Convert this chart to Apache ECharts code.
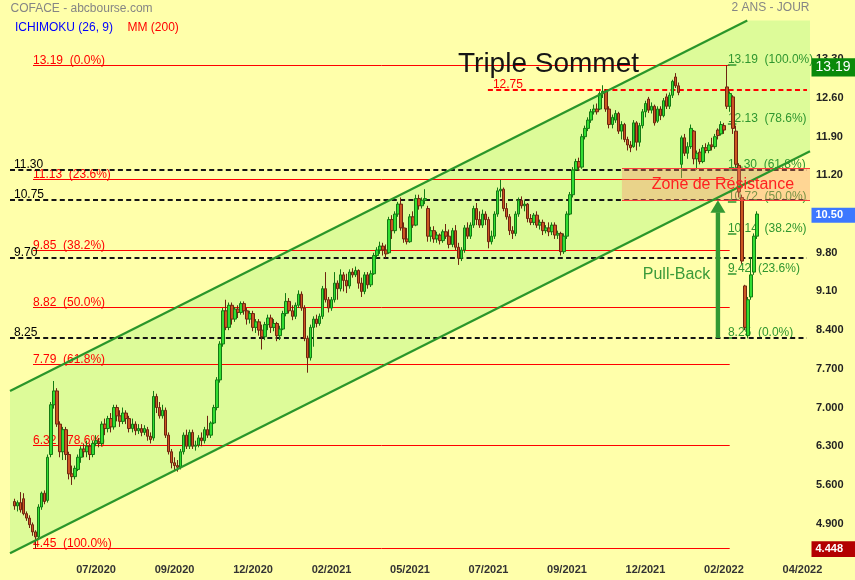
<!DOCTYPE html>
<html>
<head>
<meta charset="utf-8">
<script src="https://cdn.jsdelivr.net/npm/echarts@6/dist/echarts.min.js"></script>
<style>
html,body{margin:0;padding:0;background:#FFFFAA;}
#c{width:855px;height:580px;}
</style>
</head>
<body>
<div id="c"></div>
<script>
// ---------------- data ----------------
const tickLabels = ['07/2020','09/2020','12/2020','02/2021','05/2021','07/2021','09/2021','12/2021','02/2022','04/2022'];
const slotCount = 265;      // trading-slot categories across the plot
const firstTick = 28;
const tickStep = 26;

// [open, close, low, high] — one candle per slot starting at slot 1
const candles = [
[5.30,5.22,5.15,5.35],[5.22,5.28,5.12,5.32],[5.28,5.15,5.10,5.47],[5.35,5.08,5.05,5.45],[5.08,5.00,4.95,5.12],
[5.00,4.88,4.82,5.05],[4.88,4.75,4.68,4.92],[4.75,4.66,4.45,4.78],[4.66,5.20,4.62,5.25],[5.20,5.45,5.15,5.48],
[5.45,5.30,5.25,5.50],[5.32,6.10,5.28,6.15],[6.15,7.05,6.10,7.10],[7.05,7.30,6.98,7.48],[7.30,6.70,6.65,7.35],
[6.70,6.20,6.10,6.75],[6.20,6.60,6.05,6.65],[6.60,6.15,6.05,6.65],[6.15,5.80,5.70,6.20],[5.80,5.75,5.60,5.95],
[5.75,5.90,5.70,5.95],[5.88,6.10,5.85,6.15],[6.10,6.25,6.00,6.30],[6.25,6.20,6.10,6.35],[6.20,6.30,6.10,6.40],
[6.30,6.15,6.05,6.35],[6.15,6.35,6.10,6.40],[6.35,6.40,6.30,6.50],[6.38,6.35,6.28,6.45],[6.35,6.70,6.30,6.75],
[6.70,6.62,6.50,6.80],[6.62,6.80,6.55,6.85],[6.80,6.65,6.55,6.90],[6.65,7.00,6.60,7.05],[7.00,6.85,6.75,7.05],
[6.85,6.75,6.65,6.95],[6.75,6.90,6.70,7.00],[6.90,6.80,6.70,6.95],[6.80,6.62,6.55,6.85],[6.62,6.70,6.55,6.80],
[6.70,6.58,6.50,6.75],[6.58,6.62,6.52,6.70],[6.62,6.55,6.48,6.70],[6.55,6.62,6.50,6.68],[6.60,6.48,6.40,6.65],
[6.48,6.42,6.35,6.55],[6.45,7.20,6.40,7.30],[7.20,7.00,6.90,7.25],[7.00,6.85,6.80,7.10],[6.85,6.95,6.80,7.05],
[6.95,6.50,6.45,7.00],[6.50,6.20,6.15,6.55],[6.20,6.00,5.90,6.25],[6.00,5.95,5.85,6.10],[5.95,5.92,5.84,6.05],
[5.92,6.20,5.88,6.25],[6.20,6.50,6.15,6.55],[6.50,6.30,6.25,6.60],[6.30,6.55,6.25,6.60],[6.55,6.30,6.25,6.60],
[6.30,6.32,6.22,6.40],[6.32,6.45,6.28,6.50],[6.45,6.40,6.30,6.55],[6.40,6.60,6.35,6.65],[6.60,6.50,6.45,6.85],
[6.50,6.72,6.45,6.75],[6.72,7.00,6.70,7.05],[7.00,7.50,6.95,7.55],[7.50,8.15,7.45,8.20],[8.15,8.75,8.10,8.80],
[8.75,8.45,8.40,8.95],[8.45,8.85,8.40,8.90],[8.85,8.60,8.50,8.90],[8.60,8.78,8.55,8.82],[8.78,8.72,8.62,8.85],
[8.72,8.88,8.68,8.92],[8.88,8.75,8.68,8.92],[8.75,8.60,8.50,8.80],[8.60,8.70,8.52,8.75],[8.70,8.45,8.38,8.75],
[8.45,8.55,8.35,8.60],[8.55,8.40,8.30,8.60],[8.40,8.28,8.05,8.50],[8.28,8.50,8.22,8.55],[8.50,8.62,8.40,8.68],
[8.62,8.45,8.35,8.68],[8.45,8.52,8.38,8.60],[8.52,8.30,8.20,8.55],[8.30,8.42,8.22,8.48],[8.42,8.70,8.40,8.75],
[8.70,8.92,8.65,9.07],[8.92,8.75,8.70,8.98],[8.75,8.65,8.58,8.85],[8.65,8.85,8.60,8.90],[8.85,9.05,8.80,9.12],
[9.05,8.80,8.75,9.10],[8.80,8.25,8.20,8.85],[8.25,7.90,7.63,8.30],[7.90,8.45,7.85,8.50],[8.45,8.60,8.10,8.65],
[8.60,8.52,8.45,8.68],[8.52,8.65,8.48,8.70],[8.65,9.15,8.60,9.20],[9.15,8.95,8.90,9.45],[8.95,8.80,8.72,9.00],
[8.80,8.95,8.75,9.00],[8.95,9.25,8.90,9.45],[9.25,9.15,8.95,9.30],[9.15,9.40,9.10,9.50],[9.40,9.30,9.10,9.45],
[9.30,9.20,9.07,9.42],[9.20,9.45,9.15,9.50],[9.45,9.40,9.35,9.52],[9.40,9.48,9.36,9.55],[9.48,9.25,9.15,9.50],
[9.25,9.10,9.00,9.35],[9.10,9.40,9.05,9.45],[9.40,9.22,9.15,9.45],[9.22,9.42,9.18,9.48],[9.42,9.75,9.40,9.80],
[9.75,9.85,9.70,9.90],[9.85,9.92,9.78,10.00],[9.92,9.85,9.75,9.98],[9.85,9.78,9.70,9.95],[9.80,10.40,9.78,10.45],
[10.40,10.20,10.05,10.48],[10.20,10.50,10.15,10.55],[10.50,10.68,10.45,10.72],[10.68,10.25,10.20,10.80],[10.25,10.05,9.98,10.35],
[10.05,10.00,9.95,10.25],[10.00,10.45,9.98,10.50],[10.45,10.30,10.25,10.55],[10.30,10.78,10.28,10.85],[10.78,10.65,10.58,10.85],
[10.65,10.75,10.60,10.80],[10.75,10.78,10.68,10.95],[10.60,10.10,10.00,10.65],[10.10,10.20,10.00,10.27],[10.20,10.05,9.98,10.28],
[10.05,10.12,9.98,10.18],[10.12,10.02,9.95,10.15],[10.02,10.18,9.98,10.22],[10.18,10.10,10.05,10.32],[10.10,9.95,9.88,10.22],
[9.95,10.20,9.90,10.25],[10.20,9.90,9.85,10.30],[9.90,9.70,9.58,9.98],[9.70,9.85,9.65,9.90],[9.85,10.25,9.80,10.30],
[10.25,10.10,10.05,10.35],[10.10,10.30,10.05,10.35],[10.30,10.60,10.25,10.65],[10.60,10.40,10.30,10.70],[10.40,10.30,10.25,10.55],
[10.30,10.50,10.25,10.58],[10.50,10.40,10.30,10.55],[10.40,10.00,9.88,10.45],[10.00,10.10,9.95,10.20],[10.10,10.50,10.05,10.55],
[10.50,10.92,10.45,10.98],[10.92,10.95,10.80,11.12],[10.95,10.60,10.55,10.98],[10.60,10.45,10.40,10.70],[10.45,10.20,10.12,10.50],
[10.20,10.15,10.05,10.28],[10.15,10.50,10.10,10.55],[10.50,10.75,10.45,10.80],[10.75,10.65,10.60,10.82],[10.65,10.68,10.55,10.75],
[10.68,10.42,10.35,10.70],[10.42,10.35,10.30,10.50],[10.35,10.48,10.30,10.52],[10.48,10.30,10.25,10.55],[10.30,10.35,10.22,10.40],
[10.35,10.20,10.12,10.40],[10.20,10.25,10.15,10.30],[10.25,10.18,10.10,10.35],[10.18,10.30,10.12,10.35],[10.30,10.12,10.05,10.35],
[10.12,10.15,10.05,10.20],[10.15,9.82,9.75,10.18],[9.82,10.10,9.78,10.15],[10.10,10.50,10.05,10.55],[10.50,10.85,10.48,10.90],
[10.85,11.30,10.80,11.35],[11.30,11.45,11.28,11.50],[11.45,11.35,11.28,11.52],[11.35,11.90,11.32,11.95],[11.90,12.05,11.85,12.10],
[12.05,12.20,12.00,12.25],[12.20,12.35,12.15,12.40],[12.35,12.40,12.30,12.48],[12.40,12.35,12.30,12.50],[12.40,12.68,12.38,12.72],
[12.68,12.72,12.60,12.83],[12.72,12.40,12.35,12.76],[12.40,12.12,12.05,12.45],[12.12,12.25,12.05,12.30],[12.20,12.32,12.15,12.38],
[12.32,12.00,11.95,12.35],[12.00,12.12,11.85,12.18],[12.12,11.85,11.80,12.15],[11.85,11.75,11.65,11.90],[11.75,11.70,11.62,11.82],
[11.72,12.15,11.70,12.20],[12.15,11.80,11.65,12.18],[11.80,12.10,11.72,12.15],[12.10,12.35,12.05,12.40],[12.35,12.50,12.25,12.55],
[12.58,12.38,12.33,12.62],[12.38,12.45,12.32,12.52],[12.45,12.15,12.10,12.48],[12.18,12.40,12.15,12.45],[12.40,12.28,12.20,12.45],
[12.28,12.55,12.25,12.60],[12.62,12.45,12.40,12.68],[12.45,12.65,12.40,12.70],[12.65,12.90,12.60,12.93],[12.98,12.82,12.78,13.05],
[12.82,12.70,12.65,12.88],[11.40,11.88,11.15,11.92],[11.88,11.60,11.55,11.95],[11.60,11.72,11.50,11.80],[11.72,12.05,11.68,12.12],
[12.00,11.50,11.40,12.02],[11.50,11.60,11.30,11.65],[11.62,11.45,11.40,11.68],[11.45,11.70,11.42,11.75],[11.70,11.65,11.60,11.78],
[11.65,11.75,11.60,11.80],[11.75,11.72,11.65,11.88],[11.72,11.90,11.68,11.95],[12.02,11.92,11.85,12.05],[11.95,12.12,11.92,12.18],
[12.10,12.02,11.95,12.15],[12.80,12.45,12.40,13.19],[12.45,12.68,12.35,12.72],[12.62,12.05,11.95,12.65],[12.00,11.40,11.35,12.10],
[11.38,10.90,10.80,11.42],[10.80,9.65,9.60,10.85],[9.20,8.45,8.40,9.22],[8.30,8.95,8.25,9.00],[9.00,9.40,8.95,9.72],
[9.45,10.10,9.40,10.15],[10.10,10.50,10.05,10.55]
];

// Fibonacci retracement of the 2020-2022 rise (red) and of the final drop (green)
const fibLevels = [13.19, 11.13, 9.85, 8.82, 7.79, 6.32, 4.45];
const fibPct = ['0.0%','23.6%','38.2%','50.0%','61.8%','78.6%','100.0%'];
const reboundLevels = [13.19, 12.13, 11.30, 10.72, 10.14, 9.42, 8.25];
const reboundPct = ['100.0%','78.6%','61.8%','50.0%','38.2%','23.6%','0.0%'];
const supportLevels = [11.30, 10.75, 9.70, 8.25];
const resistanceLevel = 12.75;
const zoneRange = [10.75, 11.34];
const channelLow = [4.362, 11.635];   // lower channel line, left and right edge values
const channelHigh = [7.30, 14.57];    // upper channel line, left and right edge values
const pullBackRange = [8.25, 10.75];
const priceTags = [13.19, 10.50, 4.448];
const priceTagText = ['13.19', '10.50', '4.448'];

// ---------------- helpers ----------------
const FONT = '"Liberation Sans", Arial, Helvetica, sans-serif';
const X0 = -0.5, X1 = slotCount - 0.5;

function clipPolygon(pts, r) {
  const L = r.x, R = r.x + r.width, T = r.y, B = r.y + r.height;
  const edges = [
    [p => p[0] >= L, (a, b) => { const t = (L - a[0]) / (b[0] - a[0]); return [L, a[1] + t * (b[1] - a[1])]; }],
    [p => p[0] <= R, (a, b) => { const t = (R - a[0]) / (b[0] - a[0]); return [R, a[1] + t * (b[1] - a[1])]; }],
    [p => p[1] >= T, (a, b) => { const t = (T - a[1]) / (b[1] - a[1]); return [a[0] + t * (b[0] - a[0]), T]; }],
    [p => p[1] <= B, (a, b) => { const t = (B - a[1]) / (b[1] - a[1]); return [a[0] + t * (b[0] - a[0]), B]; }]
  ];
  let out = pts;
  for (const [inside, inter] of edges) {
    const inp = out; out = [];
    for (let i = 0; i < inp.length; i++) {
      const cur = inp[i], prev = inp[(i + inp.length - 1) % inp.length];
      if (inside(cur)) { if (!inside(prev)) out.push(inter(prev, cur)); out.push(cur); }
      else if (inside(prev)) out.push(inter(prev, cur));
    }
  }
  return out;
}
function clipSegment(a, b, r) {
  let t0 = 0, t1 = 1;
  const dx = b[0] - a[0], dy = b[1] - a[1];
  const p = [-dx, dx, -dy, dy];
  const q = [a[0] - r.x, r.x + r.width - a[0], a[1] - r.y, r.y + r.height - a[1]];
  for (let i = 0; i < 4; i++) {
    if (p[i] === 0) { if (q[i] < 0) return null; }
    else {
      const t = q[i] / p[i];
      if (p[i] < 0) { if (t > t1) return null; if (t > t0) t0 = t; }
      else { if (t < t0) return null; if (t < t1) t1 = t; }
    }
  }
  return [[a[0] + t0 * dx, a[1] + t0 * dy], [a[0] + t1 * dx, a[1] + t1 * dy]];
}

// horizontal level lines built from the level arrays
const RED = '#ff0000', GREEN = '#2f962f';
const levelItems = [];
fibLevels.forEach((v, k) => levelItems.push({ v, x0: 7.12, x1: 237.9, stroke: RED, w: 1, dash: null,
  text: v.toFixed(2) + '  (' + fibPct[k] + ')', fill: RED, dx: 0 }));
reboundLevels.forEach((v, k) => levelItems.push({ v, x0: 237.3, x1: 240.1, stroke: GREEN, w: 1.5, dash: null,
  text: v.toFixed(2) + '  (' + reboundPct[k] + ')', fill: GREEN, dx: 0 }));
supportLevels.forEach(v => levelItems.push({ v, x0: X0, x1: 263.5, stroke: '#151515', w: 2, dash: [5, 3.3],
  text: v.toFixed(2), fill: '#000', dx: 4 }));
levelItems.push({ v: resistanceLevel, x0: 157.8, x1: 263.5, stroke: RED, w: 2, dash: [5, 3.3],
  text: resistanceLevel.toFixed(2), fill: RED, dx: 5 });

const categories = Array.from({ length: slotCount }, (_, i) => String(i));

// ---------------- chart ----------------
const chart = echarts.init(document.getElementById('c'));
chart.setOption({
  backgroundColor: '#FFFFAA',
  animation: false,
  grid: { left: 10, right: 45, top: 20.6, bottom: 17.7 },
  xAxis: [
    {
      type: 'category', data: categories, boundaryGap: true,
      axisLine: { show: false }, axisTick: { show: false }, splitLine: { show: false },
      axisLabel: {
        interval: (index) => index >= firstTick && (index - firstTick) % tickStep === 0,
        formatter: (val, index) => tickLabels[(index - firstTick) / tickStep] || '',
        color: '#333', fontSize: 11, fontWeight: 'bold', fontFamily: FONT, margin: 2
      }
    },
    { type: 'value', min: X0, max: X1, show: false }
  ],
  yAxis: {
    type: 'value', position: 'right', min: 4.2, max: 14.0, interval: 0.7,
    axisLine: { show: false }, axisTick: { show: false }, splitLine: { show: false },
    axisLabel: {
      color: '#222', fontSize: 11, fontWeight: 'bold', fontFamily: FONT, margin: 6,
      padding: [0, 0, 5, 0],
      formatter: (v) => {
        if (v < 4.5 || v > 13.5 || Math.abs(v - 10.5) < 1e-6) return '';
        return v >= 9 ? v.toFixed(2) : v.toFixed(3);
      }
    }
  },
  graphic: [
    { type: 'text', x: 10.5, y: 8.5, style: { text: 'COFACE - abcbourse.com', fill: '#858585', font: '12px ' + FONT, verticalAlign: 'middle' } },
    { type: 'text', x: 15, y: 27.5, style: { text: 'ICHIMOKU (26, 9)', fill: '#0000ff', font: '12px ' + FONT, verticalAlign: 'middle' } },
    { type: 'text', x: 127.5, y: 27.5, style: { text: 'MM (200)', fill: '#ff0000', font: '12px ' + FONT, verticalAlign: 'middle' } },
    { type: 'text', x: 809.5, y: 7.5, style: { text: '2 ANS - JOUR', fill: '#858585', font: '12px ' + FONT, align: 'right', verticalAlign: 'middle' } }
  ],
  series: [
    // channel fill
    {
      type: 'custom', xAxisIndex: 1, yAxisIndex: 0, silent: true, z: 1,
      data: [[0, 5]],
      renderItem: (params, api) => {
        const cs = params.coordSys;
        const a = api.coord([X0, channelLow[0]]), b = api.coord([X1, channelLow[1]]);
        const c = api.coord([X1, channelHigh[1]]), d = api.coord([X0, channelHigh[0]]);
        return { type: 'polygon', shape: { points: clipPolygon([a, b, c, d], cs) }, style: { fill: '#DDFB99' } };
      }
    },
    // level lines + labels
    {
      type: 'custom', xAxisIndex: 1, yAxisIndex: 0, silent: true, z: 2,
      data: levelItems.map((_, k) => [k, 5]),
      renderItem: (params, api) => {
        const it = levelItems[params.dataIndex];
        const p0 = api.coord([it.x0, it.v]), p1 = api.coord([it.x1, it.v]);
        const y = it.w === 1 ? Math.round(p0[1]) + 0.5 : Math.round(p0[1]);
        return {
          type: 'group', children: [
            { type: 'line', shape: { x1: p0[0], y1: y, x2: p1[0], y2: y },
              style: { stroke: it.stroke, lineWidth: it.w, lineDash: it.dash || null } },
            { type: 'text', style: { text: it.text, x: p0[0] + it.dx, y: y + 1, fill: it.fill,
              font: '12px ' + FONT, align: 'left', verticalAlign: 'bottom' } }
          ]
        };
      }
    },
    // candles
    {
      type: 'candlestick', xAxisIndex: 0, yAxisIndex: 0, z: 3, silent: true,
      data: candles.map((c, k) => [k + 1, c[0], c[1], c[2], c[3]]),
      encode: { x: 0, y: [1, 2, 3, 4] },
      barWidth: 3,
      itemStyle: { color: '#33DD33', color0: '#CC5522', borderColor: '#137A13', borderColor0: '#6E2410', borderWidth: 1 }
    },
    // resistance zone
    {
      type: 'custom', xAxisIndex: 1, yAxisIndex: 0, silent: true, z: 4,
      data: [[0, 5]],
      renderItem: (params, api) => {
        const tl = api.coord([202.2, zoneRange[1]]), br = api.coord([X1, zoneRange[0]]);
        const yt = Math.round(tl[1]) + 0.5, yb = Math.round(br[1]) + 0.5;
        return {
          type: 'group', children: [
            { type: 'rect', shape: { x: tl[0], y: yt, width: br[0] - tl[0], height: yb - yt },
              style: { fill: 'rgba(255,140,110,0.36)' } },
            { type: 'line', shape: { x1: tl[0], y1: yt, x2: br[0], y2: yt }, style: { stroke: '#ff3a3a', lineWidth: 1 } },
            { type: 'line', shape: { x1: tl[0], y1: yb, x2: br[0], y2: yb }, style: { stroke: '#ff3a3a', lineWidth: 1 } }
          ]
        };
      }
    },
    // channel lines
    {
      type: 'custom', xAxisIndex: 1, yAxisIndex: 0, silent: true, z: 5,
      data: [[0, 5]],
      renderItem: (params, api) => {
        const cs = params.coordSys;
        const segs = [
          clipSegment(api.coord([X0, channelLow[0]]), api.coord([X1, channelLow[1]]), cs),
          clipSegment(api.coord([X0, channelHigh[0]]), api.coord([X1, channelHigh[1]]), cs)
        ].filter(Boolean);
        return { type: 'group', children: segs.map(s => ({
          type: 'line', shape: { x1: s[0][0], y1: s[0][1], x2: s[1][0], y2: s[1][1] },
          style: { stroke: '#2a962a', lineWidth: 2.2 } })) };
      }
    },
    // pull-back arrow
    {
      type: 'custom', xAxisIndex: 1, yAxisIndex: 0, silent: true, z: 6,
      data: [[0, 5]],
      renderItem: (params, api) => {
        const b = api.coord([234.0, pullBackRange[0]]), t = api.coord([234.0, pullBackRange[1]]);
        const cx = b[0], head = 12.6, hw = 7.5, sw = 2.2;
        return {
          type: 'group', children: [
            { type: 'rect', shape: { x: cx - sw, y: t[1] + head - 0.5, width: sw * 2, height: b[1] - t[1] - head }, style: { fill: '#339933' } },
            { type: 'polygon', shape: { points: [[cx - hw, t[1] + head], [cx + hw, t[1] + head], [cx, t[1]]] }, style: { fill: '#339933' } }
          ]
        };
      }
    },
    // text annotations
    {
      type: 'custom', xAxisIndex: 1, yAxisIndex: 0, silent: true, z: 7,
      data: [[0, 5]],
      renderItem: (params, api) => {
        const notes = [
          { at: [147.9, 13.206], text: 'Triple Sommet', fill: '#151515', size: 28 },
          { at: [212.1, 11.026], text: 'Zone de Résistance', fill: '#ff2020', size: 16 },
          { at: [209.1, 9.397], text: 'Pull-Back', fill: '#3a9a3a', size: 16 }
        ];
        return { type: 'group', children: notes.map(n => {
          const p = api.coord(n.at);
          return { type: 'text', style: { text: n.text, x: p[0], y: p[1], fill: n.fill,
            font: n.size + 'px ' + FONT, align: 'left', verticalAlign: 'middle' } };
        }) };
      }
    },
    // price tags on the right axis
    {
      type: 'custom', xAxisIndex: 1, yAxisIndex: 0, silent: true, z: 8, clip: false,
      data: priceTags.map((_, k) => [k, 5]),
      renderItem: (params, api) => {
        const k = params.dataIndex;
        const styles = [
          { bg: '#0a8a0a', font: '14px ' + FONT, h: 18.4, off: 2 },
          { bg: '#3c78ff', font: 'bold 11px ' + FONT, h: 14.8, off: 1.2 },
          { bg: '#b30000', font: 'bold 11px ' + FONT, h: 15.6, off: 0.5 }
        ];
        const s = styles[k];
        const p = api.coord([X1, priceTags[k]]);
        const cy = p[1] + s.off;
        return {
          type: 'group', children: [
            { type: 'rect', shape: { x: p[0] + 1.5, y: cy - s.h / 2, width: 45, height: s.h }, style: { fill: s.bg } },
            { type: 'text', style: { text: priceTagText[k], x: p[0] + 5.5, y: cy, fill: '#fff', font: s.font, align: 'left', verticalAlign: 'middle' } }
          ]
        };
      }
    }
  ]
});
</script>
</body>
</html>
